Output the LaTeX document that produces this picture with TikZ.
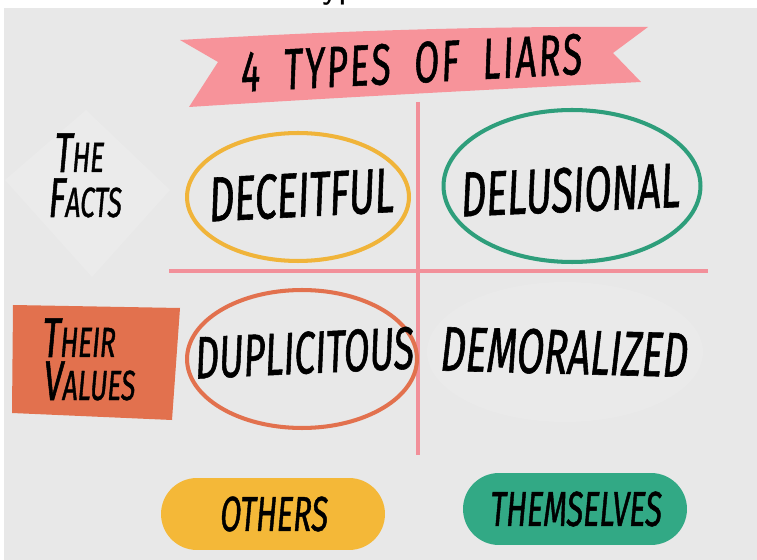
\documentclass[tikz,border=0pt]{standalone}
\usepackage{fontspec}
\newfontfamily\handfont{Fira Sans}[FakeStretch=0.62,FakeSlant=0.09,FakeBold=0.9]
\newfontfamily\bannerfont{Fira Sans}[FakeStretch=0.62,FakeSlant=0.09,FakeBold=0.9,LetterSpace=4,WordSpace=2]
\usetikzlibrary{shapes.geometric}

\definecolor{paper}{HTML}{E8E8E8}
\definecolor{gridpink}{HTML}{F2909A}
\definecolor{ribbonpink}{HTML}{F7939A}
\definecolor{lieyellow}{HTML}{F0B43A}
\definecolor{liegreen}{HTML}{2E9E7B}
\definecolor{lieorange}{HTML}{E2714E}
\definecolor{pillyellow}{HTML}{F4B838}
\definecolor{pillgreen}{HTML}{32A985}

\newcommand{\handsize}[1]{\handfont\fontsize{#1}{#1}\selectfont}
\newcommand{\firstcap}[1]{{\fontsize{32}{32}\selectfont #1}}

\begin{document}
\begin{tikzpicture}[x=0.02cm,y=-0.02cm]
    \tikzset{
        word/.style={inner sep=0pt,font=\handsize{36}},
        ring/.style={ellipse,draw=#1,line width=2.3pt,inner sep=0pt},
        pill/.style={rounded corners=0.72cm,fill=#1,minimum width=4.48cm,
            minimum height=1.44cm,inner sep=0pt,font=\handsize{28}},
        axis/.style={draw=gridpink,line width=2pt},
        side/.style={anchor=base west,inner sep=0pt,font=\handsize{24}}
    }
    \useasboundingbox (0,0) rectangle (757,560);
    \fill[white] (0,0) rectangle (757,560);
    \fill[paper] (4,8) rectangle (757,560);
    \begin{scope}
        \clip (0,0) rectangle (757,8);
        \node[font=\sffamily\fontsize{22}{22}\selectfont,anchor=base] (cut) at (340,-2) {yp};
    \end{scope}

    \fill[paper!88!white] (5,180) -- (86,110) -- (170,190) -- (92,277) -- cycle;
    \fill[ribbonpink] (180,40) .. controls (350,30) and (500,26) .. (648,27)
        -- (613,53) -- (641,82) .. controls (480,90) and (330,98) .. (189,107)
        -- (218,62) -- cycle;
    \node[inner sep=0pt,font=\bannerfont\fontsize{33}{33}\selectfont,rotate=3]
        (title) at (410,63) {4 TYPES OF LIARS};

    \draw[axis] (418,102) -- (418,455);
    \draw[axis] (169,271) -- (708,271);

    \node[side] (the) at (53,172) {\firstcap{T}HE};
    \node[side] (facts) at (47,217) {\firstcap{F}ACTS};
    \fill[lieorange] (13,305) -- (180,308) -- (172,420) -- (12,413) -- cycle;
    \node[side] (their) at (41,357) {\firstcap{T}HEIR};
    \node[side] (values) at (42,400) {\firstcap{V}ALUES};

    \node[ring=lieyellow,minimum width=4.44cm,minimum height=2.56cm] (deceitring) at (298,197) {};
    \node[word,rotate=3] (deceit) at (300,195) {DECEITFUL};
    \node[ring=liegreen,minimum width=5.14cm,minimum height=3.04cm] (delusring) at (572,186) {};
    \node[word,rotate=2.5] (delus) at (569,190) {DELUSIONAL};
    \node[ring=lieorange,minimum width=4.6cm,minimum height=2.76cm] (duplring) at (302,359) {};
    \node[word,font=\handsize{34},rotate=2.7] (dupl) at (303,353) {DUPLICITOUS};
    \node[ellipse,fill=paper!93!white,minimum width=5.52cm,minimum height=2.8cm] (demoring) at (565,352) {};
    \node[word,rotate=-1.5] (demo) at (563,352) {DEMORALIZED};

    \node[pill=pillyellow] (others) at (273,514) {OTHERS};
    \node[pill=pillgreen,text width=4.3cm,align=center] (selves) at (575,509) {THEMSELVES};
\end{tikzpicture}
\end{document}
